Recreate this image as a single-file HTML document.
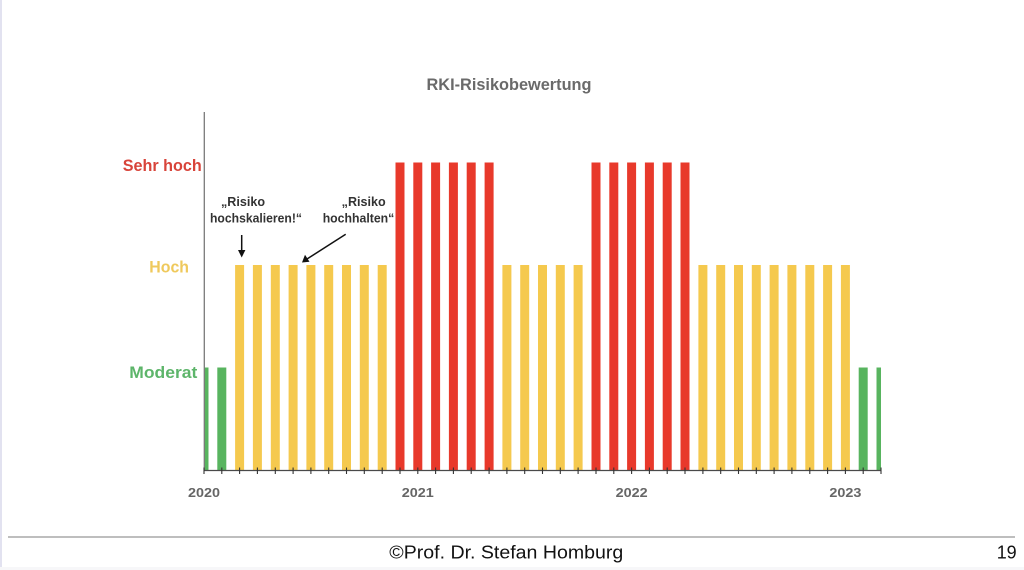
<!DOCTYPE html>
<html>
<head>
<meta charset="utf-8">
<style>
  html,body{margin:0;padding:0;background:#fff;}
  body{width:1024px;height:570px;overflow:hidden;}
  svg{display:block;}
</style>
</head>
<body>
<svg width="1024" height="570" viewBox="0 0 1024 570" xmlns="http://www.w3.org/2000/svg">
  <rect x="0" y="0" width="1024" height="570" fill="#ffffff"/>
  <rect x="0" y="0" width="2" height="570" fill="#e2e2f0"/>
  <rect x="0" y="567" width="1024" height="3" fill="#f7f7f9"/>

  <!-- Title -->
  <text x="426.5" y="90" font-family="Liberation Sans, sans-serif" font-weight="bold" font-size="16.5" fill="#6a6a6a" textLength="165" lengthAdjust="spacingAndGlyphs">RKI-Risikobewertung</text>

  <!-- Y labels -->
  <text x="122.7" y="171" font-family="Liberation Sans, sans-serif" font-weight="bold" font-size="17" fill="#d8443a" textLength="79" lengthAdjust="spacingAndGlyphs">Sehr hoch</text>
  <text x="149.3" y="272.5" font-family="Liberation Sans, sans-serif" font-weight="bold" font-size="17" fill="#efc95c" textLength="39.7" lengthAdjust="spacingAndGlyphs">Hoch</text>
  <text x="129.3" y="378" font-family="Liberation Sans, sans-serif" font-weight="bold" font-size="17" fill="#5db56a" textLength="68" lengthAdjust="spacingAndGlyphs">Moderat</text>

  <defs>
    <clipPath id="plot"><rect x="204" y="100" width="677" height="371"/></clipPath>
  </defs>

  <!-- Bars -->
  <g clip-path="url(#plot)">
    <rect x="199.5" y="367.5" width="9" height="102.5" fill="#58b45f"/>
    <rect x="217.3" y="367.5" width="9" height="102.5" fill="#58b45f"/>
    <g fill="#f5c94e">
      <rect x="235.1" y="265" width="9" height="205"/>
      <rect x="252.9" y="265" width="9" height="205"/>
      <rect x="270.8" y="265" width="9" height="205"/>
      <rect x="288.6" y="265" width="9" height="205"/>
      <rect x="306.4" y="265" width="9" height="205"/>
      <rect x="324.2" y="265" width="9" height="205"/>
      <rect x="342.0" y="265" width="9" height="205"/>
      <rect x="359.8" y="265" width="9" height="205"/>
      <rect x="377.7" y="265" width="9" height="205"/>
    </g>
    <g fill="#e8392b">
      <rect x="395.5" y="162.5" width="9" height="307.5"/>
      <rect x="413.3" y="162.5" width="9" height="307.5"/>
      <rect x="431.1" y="162.5" width="9" height="307.5"/>
      <rect x="448.9" y="162.5" width="9" height="307.5"/>
      <rect x="466.7" y="162.5" width="9" height="307.5"/>
      <rect x="484.6" y="162.5" width="9" height="307.5"/>
    </g>
    <g fill="#f5c94e">
      <rect x="502.4" y="265" width="9" height="205"/>
      <rect x="520.2" y="265" width="9" height="205"/>
      <rect x="538.0" y="265" width="9" height="205"/>
      <rect x="555.8" y="265" width="9" height="205"/>
      <rect x="573.6" y="265" width="9" height="205"/>
    </g>
    <g fill="#e8392b">
      <rect x="591.5" y="162.5" width="9" height="307.5"/>
      <rect x="609.3" y="162.5" width="9" height="307.5"/>
      <rect x="627.1" y="162.5" width="9" height="307.5"/>
      <rect x="644.9" y="162.5" width="9" height="307.5"/>
      <rect x="662.7" y="162.5" width="9" height="307.5"/>
      <rect x="680.5" y="162.5" width="9" height="307.5"/>
    </g>
    <g fill="#f5c94e">
      <rect x="698.4" y="265" width="9" height="205"/>
      <rect x="716.2" y="265" width="9" height="205"/>
      <rect x="734.0" y="265" width="9" height="205"/>
      <rect x="751.8" y="265" width="9" height="205"/>
      <rect x="769.6" y="265" width="9" height="205"/>
      <rect x="787.4" y="265" width="9" height="205"/>
      <rect x="805.3" y="265" width="9" height="205"/>
      <rect x="823.1" y="265" width="9" height="205"/>
      <rect x="840.9" y="265" width="9" height="205"/>
    </g>
    <rect x="858.7" y="367.5" width="9" height="102.5" fill="#58b45f"/>
    <rect x="876.5" y="367.5" width="9" height="102.5" fill="#58b45f"/>
  </g>

  <!-- Axes -->
  <line x1="204.3" y1="112" x2="204.3" y2="470.5" stroke="#7a7a7a" stroke-width="1.3"/>
  <line x1="204" y1="470.5" x2="881.5" y2="470.5" stroke="#4a4a4a" stroke-width="1.3"/>
  <g stroke="#333" stroke-width="1.1">
    <line x1="204.0" y1="467.5" x2="204.0" y2="474"/>
    <line x1="221.8" y1="467.5" x2="221.8" y2="474"/>
    <line x1="239.6" y1="467.5" x2="239.6" y2="474"/>
    <line x1="257.4" y1="467.5" x2="257.4" y2="474"/>
    <line x1="275.3" y1="467.5" x2="275.3" y2="474"/>
    <line x1="293.1" y1="467.5" x2="293.1" y2="474"/>
    <line x1="310.9" y1="467.5" x2="310.9" y2="474"/>
    <line x1="328.7" y1="467.5" x2="328.7" y2="474"/>
    <line x1="346.5" y1="467.5" x2="346.5" y2="474"/>
    <line x1="364.3" y1="467.5" x2="364.3" y2="474"/>
    <line x1="382.2" y1="467.5" x2="382.2" y2="474"/>
    <line x1="400.0" y1="467.5" x2="400.0" y2="474"/>
    <line x1="417.8" y1="467.5" x2="417.8" y2="474"/>
    <line x1="435.6" y1="467.5" x2="435.6" y2="474"/>
    <line x1="453.4" y1="467.5" x2="453.4" y2="474"/>
    <line x1="471.2" y1="467.5" x2="471.2" y2="474"/>
    <line x1="489.1" y1="467.5" x2="489.1" y2="474"/>
    <line x1="506.9" y1="467.5" x2="506.9" y2="474"/>
    <line x1="524.7" y1="467.5" x2="524.7" y2="474"/>
    <line x1="542.5" y1="467.5" x2="542.5" y2="474"/>
    <line x1="560.3" y1="467.5" x2="560.3" y2="474"/>
    <line x1="578.1" y1="467.5" x2="578.1" y2="474"/>
    <line x1="596.0" y1="467.5" x2="596.0" y2="474"/>
    <line x1="613.8" y1="467.5" x2="613.8" y2="474"/>
    <line x1="631.6" y1="467.5" x2="631.6" y2="474"/>
    <line x1="649.4" y1="467.5" x2="649.4" y2="474"/>
    <line x1="667.2" y1="467.5" x2="667.2" y2="474"/>
    <line x1="685.0" y1="467.5" x2="685.0" y2="474"/>
    <line x1="702.9" y1="467.5" x2="702.9" y2="474"/>
    <line x1="720.7" y1="467.5" x2="720.7" y2="474"/>
    <line x1="738.5" y1="467.5" x2="738.5" y2="474"/>
    <line x1="756.3" y1="467.5" x2="756.3" y2="474"/>
    <line x1="774.1" y1="467.5" x2="774.1" y2="474"/>
    <line x1="791.9" y1="467.5" x2="791.9" y2="474"/>
    <line x1="809.8" y1="467.5" x2="809.8" y2="474"/>
    <line x1="827.6" y1="467.5" x2="827.6" y2="474"/>
    <line x1="845.4" y1="467.5" x2="845.4" y2="474"/>
    <line x1="863.2" y1="467.5" x2="863.2" y2="474"/>
    <line x1="881.0" y1="467.5" x2="881.0" y2="474"/>
  </g>

  <!-- Year labels -->
  <g font-family="Liberation Sans, sans-serif" font-weight="bold" font-size="13" fill="#666">
    <text x="188" y="497" textLength="32" lengthAdjust="spacingAndGlyphs">2020</text>
    <text x="401.8" y="497" textLength="32" lengthAdjust="spacingAndGlyphs">2021</text>
    <text x="615.6" y="497" textLength="32" lengthAdjust="spacingAndGlyphs">2022</text>
    <text x="829.4" y="497" textLength="32" lengthAdjust="spacingAndGlyphs">2023</text>
  </g>

  <!-- Annotations -->
  <g font-family="Liberation Sans, sans-serif" font-weight="bold" font-size="12.5" fill="#333">
    <text x="221" y="206" textLength="44" lengthAdjust="spacingAndGlyphs">„Risiko</text>
    <text x="210" y="222.5" textLength="92" lengthAdjust="spacingAndGlyphs">hochskalieren!“</text>
    <text x="341.7" y="206" textLength="44" lengthAdjust="spacingAndGlyphs">„Risiko</text>
    <text x="322.7" y="222.5" textLength="71.6" lengthAdjust="spacingAndGlyphs">hochhalten“</text>
  </g>
  <!-- Arrows -->
  <line x1="241.7" y1="235" x2="241.7" y2="251" stroke="#111" stroke-width="1.5"/>
  <polygon points="238,250 245.4,250 241.7,257.5" fill="#111"/>
  <line x1="345.7" y1="234.3" x2="307" y2="259" stroke="#111" stroke-width="1.5"/>
  <polygon points="302,262.5 305,254.8 309.5,261.8" fill="#111"/>

  <!-- Footer -->
  <line x1="8" y1="537" x2="1015" y2="537" stroke="#a8a8a8" stroke-width="1.5"/>
  <text x="389.3" y="558.3" font-family="Liberation Sans, sans-serif" font-size="18" fill="#111" textLength="234" lengthAdjust="spacingAndGlyphs">©Prof. Dr. Stefan Homburg</text>
  <text x="996.7" y="558.3" font-family="Liberation Sans, sans-serif" font-size="18" fill="#111" textLength="20" lengthAdjust="spacingAndGlyphs">19</text>
</svg>
</body>
</html>
